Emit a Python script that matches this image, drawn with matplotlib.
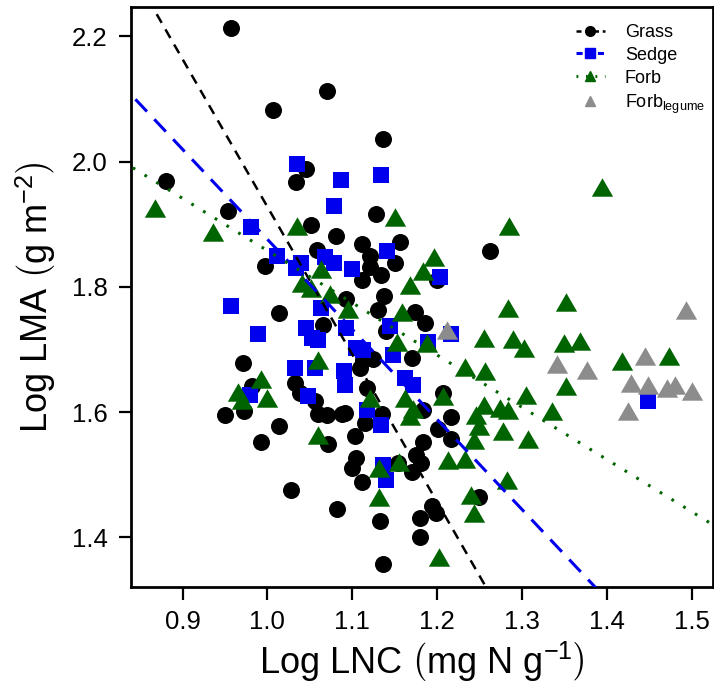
import numpy as np
import matplotlib
matplotlib.use("Agg")
import matplotlib.pyplot as plt
from matplotlib.lines import Line2D

plt.rcParams['font.family'] = ['Liberation Sans', 'DejaVu Sans']
plt.rcParams['mathtext.fontset'] = 'custom'
plt.rcParams['mathtext.rm'] = 'Liberation Sans'
plt.rcParams['mathtext.it'] = 'Liberation Sans'

# ---------------- data (log10 values) ----------------
grass_x = [0.957, 1.070, 1.007, 1.136, 1.045, 1.034, 0.880, 0.953, 1.128, 1.051,
           1.081, 1.111, 1.156, 1.059, 1.121, 1.150, 1.134, 0.997, 1.111, 1.138,
           1.093, 1.130, 1.014, 1.174, 1.262, 1.200, 1.186, 1.140, 1.170, 1.207,
           1.184, 1.217, 1.201, 1.217, 1.184, 1.175, 1.181, 1.171, 1.250, 1.194,
           1.180, 1.133, 1.066, 0.971, 0.982, 1.033, 1.039, 1.056, 0.950, 0.973,
           1.060, 1.070, 1.088, 1.014, 0.993, 1.072, 1.113, 1.125, 1.109, 1.117,
           1.091, 1.135, 1.115, 1.103, 1.105, 1.100, 1.111, 1.028, 1.082, 1.136,
           1.180, 1.154, 1.199, 1.121]
grass_y = [2.213, 2.113, 2.083, 2.036, 1.989, 1.967, 1.969, 1.921, 1.916, 1.899,
           1.882, 1.868, 1.872, 1.859, 1.849, 1.838, 1.819, 1.833, 1.811, 1.785,
           1.780, 1.763, 1.758, 1.760, 1.858, 1.811, 1.743, 1.730, 1.686, 1.630,
           1.603, 1.592, 1.573, 1.557, 1.552, 1.531, 1.518, 1.505, 1.465, 1.450,
           1.431, 1.426, 1.739, 1.679, 1.641, 1.647, 1.631, 1.617, 1.596, 1.601,
           1.597, 1.595, 1.597, 1.577, 1.553, 1.549, 1.683, 1.685, 1.670, 1.639,
           1.598, 1.597, 1.582, 1.562, 1.526, 1.510, 1.488, 1.476, 1.445, 1.357,
           1.400, 1.518, 1.438, 1.832]

sedge_x = [1.035, 1.087, 1.134, 1.079, 0.981, 1.011, 1.034, 1.040, 1.068, 1.079,
           1.100, 1.141, 0.957, 1.063, 1.203, 1.144, 1.217, 1.189, 1.148, 1.162,
           1.172, 1.134, 1.136, 1.140, 1.449, 0.989, 1.046, 1.052, 1.060, 1.093,
           1.105, 1.113, 1.032, 1.056, 1.090, 1.091, 0.979, 1.048, 1.117]
sedge_y = [1.996, 1.971, 1.978, 1.929, 1.895, 1.849, 1.830, 1.838, 1.848, 1.838,
           1.828, 1.858, 1.770, 1.766, 1.815, 1.738, 1.724, 1.712, 1.691, 1.654,
           1.643, 1.579, 1.515, 1.492, 1.617, 1.725, 1.734, 1.718, 1.715, 1.734,
           1.703, 1.699, 1.670, 1.670, 1.665, 1.643, 1.628, 1.625, 1.603]

forb_x = [0.867, 0.936, 1.035, 1.150, 1.196, 1.184, 1.168, 1.063, 1.041, 1.051,
          1.074, 1.095, 1.159, 1.394, 1.285, 1.284, 1.352, 1.153, 1.188, 1.255,
          1.290, 1.303, 1.350, 1.368, 1.233, 1.256, 1.418, 1.473, 1.352, 1.305,
          1.255, 1.274, 1.284, 1.336, 1.246, 1.162, 1.172, 1.168, 1.207, 1.249,
          1.278, 1.307, 1.243, 1.213, 1.233, 1.155, 1.132, 1.132, 1.282, 1.240,
          1.243, 1.202, 0.965, 0.970, 0.992, 0.999, 1.060, 1.060, 1.121]
forb_y = [1.926, 1.887, 1.897, 1.912, 1.847, 1.825, 1.803, 1.829, 1.806, 1.799,
          1.789, 1.764, 1.760, 1.959, 1.897, 1.767, 1.776, 1.712, 1.710, 1.719,
          1.716, 1.703, 1.710, 1.714, 1.672, 1.665, 1.682, 1.689, 1.642, 1.627,
          1.611, 1.607, 1.603, 1.602, 1.595, 1.622, 1.605, 1.593, 1.625, 1.577,
          1.569, 1.557, 1.555, 1.523, 1.525, 1.521, 1.510, 1.464, 1.492, 1.468,
          1.438, 1.369, 1.632, 1.620, 1.653, 1.623, 1.683, 1.563, 1.623]

legume_x = [1.212, 1.493, 1.445, 1.341, 1.377, 1.429, 1.449, 1.471, 1.480, 1.501, 1.425]
legume_y = [1.731, 1.763, 1.690, 1.677, 1.667, 1.646, 1.643, 1.638, 1.643, 1.633, 1.601]

# fitted regression lines: (slope, intercept)
grass_fit = (-2.358, 4.286)
sedge_fit = (-1.438, 3.314)
forb_fit = (-0.834, 2.692)

labels = ['Grass', 'Sedge', 'Forb', r'$\mathregular{Forb_{legume}}$']
x_ticks = [0.9, 1.0, 1.1, 1.2, 1.3, 1.4, 1.5]
y_ticks = [1.4, 1.6, 1.8, 2.0, 2.2]

# ---------------- style ----------------
c_grass = 'black'
c_sedge = '#0000ee'
c_forb = '#006400'
c_leg = '#8c8c8c'

tri = [(-1, -0.866), (1, -0.866), (0, 0.866)]

fig = plt.figure(figsize=(7.14, 6.97), dpi=100)
ax = fig.add_axes([0.1839, 0.1582, 0.8144, 0.8313])

ax.scatter(grass_x, grass_y, s=150, marker='o', color=c_grass, linewidths=0, zorder=2)
ax.scatter(sedge_x, sedge_y, s=140, marker='s', color=c_sedge, linewidths=0, zorder=3)
ax.scatter(forb_x, forb_y, s=235, marker=tri, color=c_forb, linewidths=0, zorder=4)
ax.scatter(legume_x, legume_y, s=235, marker=tri, color=c_leg, linewidths=0, zorder=5)

xx = np.array([0.8, 1.6])
ax.plot(xx, grass_fit[0] * xx + grass_fit[1], color=c_grass, lw=1.8,
        linestyle=(0, (4, 3)), zorder=6)
ax.plot(xx, sedge_fit[0] * xx + sedge_fit[1], color=c_sedge, lw=2.2,
        linestyle=(0, (5.5, 3.5)), zorder=6)
ax.plot(xx, forb_fit[0] * xx + forb_fit[1], color=c_forb, lw=2.2,
        linestyle=(0, (0.9, 3.6)), zorder=6)

ax.set_xlim(0.8396, 1.525)
ax.set_ylim(1.321, 2.2466)
ax.set_xticks(x_ticks)
ax.set_xticklabels([f'{v:.1f}' for v in x_ticks])
ax.set_yticks(y_ticks)
ax.set_yticklabels([f'{v:.1f}' for v in y_ticks])
ax.tick_params(direction='out', length=9, width=1.6, labelsize=18.5, pad=8)
for sp in ax.spines.values():
    sp.set_linewidth(2)

ax.set_xlabel(r'Log LNC $\mathregular{\left(mg\ N\ g^{-1}\right)}$', fontsize=26, labelpad=4)
ax.set_ylabel(r'Log LMA $\mathregular{\left(g\ m^{-2}\right)}$', fontsize=26, labelpad=10)

handles = [
    Line2D([], [], color=c_grass, lw=1.8, linestyle=(0, (2, 1.5)), marker='o', markersize=7),
    Line2D([], [], color=c_sedge, lw=2.2, linestyle=(0, (2, 1.5)), marker='s', markersize=7),
    Line2D([], [], color=c_forb, lw=2.2, linestyle=(0, (0.6, 2.5)), marker='^', markersize=7),
    Line2D([], [], color=c_leg, lw=0, marker='^', markersize=7),
]
ax.legend(handles, labels, loc='upper left', bbox_to_anchor=(576 / 714, 1 - 24 / 697),
          bbox_transform=fig.transFigure, frameon=False, fontsize=13,
          handlelength=1.6, handletextpad=1.1, labelspacing=0.32,
          borderpad=0, borderaxespad=0)

fig.savefig('out.png', dpi=100)
